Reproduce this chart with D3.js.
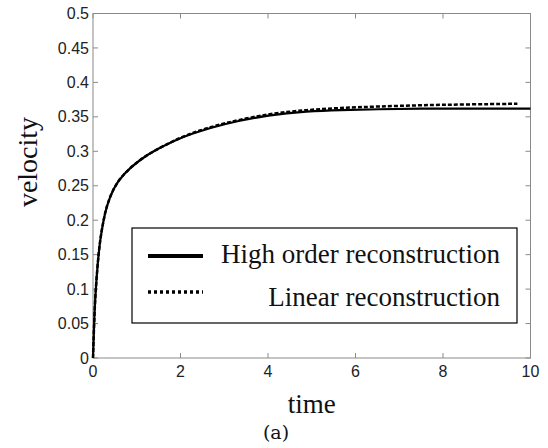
<!DOCTYPE html>
<html>
<head>
<meta charset="utf-8">
<script src="https://cdn.jsdelivr.net/npm/d3@7"></script>
<style>
  body { margin: 0; background: #fff; }
  svg { display: block; }
</style>
</head>
<body>
<svg width="548" height="448"></svg>
<script>
// values
const timeHigh = [0, 0.023, 0.046, 0.10, 0.16, 0.24, 0.31, 0.46, 0.69, 1.07, 1.46, 1.84, 2.22, 2.98, 4.05, 4.89, 5.65, 6.5, 7.5, 8.5, 10];
const velHigh  = [0, 0.045, 0.084, 0.133, 0.171, 0.200, 0.220, 0.246, 0.267, 0.288, 0.303, 0.315, 0.325, 0.340, 0.353, 0.358, 0.360, 0.361, 0.362, 0.362, 0.362];
const timeLin  = [0, 0.023, 0.046, 0.10, 0.16, 0.24, 0.31, 0.46, 0.69, 1.07, 1.46, 1.84, 2.22, 2.98, 4.05, 4.89, 5.65, 6.5, 7.5, 8.5, 9.7];
const velLin   = [0, 0.045, 0.084, 0.133, 0.171, 0.200, 0.220, 0.246, 0.267, 0.288, 0.303, 0.315, 0.326, 0.341, 0.355, 0.360, 0.363, 0.365, 0.367, 0.368, 0.369];
const xTicks = [0, 2, 4, 6, 8, 10];
const yTicks = [0, 0.05, 0.1, 0.15, 0.2, 0.25, 0.3, 0.35, 0.4, 0.45, 0.5];
const legendLabels = ["High order reconstruction", "Linear reconstruction"];

const svg = d3.select("svg");
const plotL = 93, plotR = 530.5, plotT = 13.5, plotB = 358;

const x = d3.scaleLinear().domain([0, 10]).range([plotL, plotR]);
const y = d3.scaleLinear().domain([0, 0.5]).range([plotB, plotT]);

const fmt = d => d3.format("~g")(d);

// frame
svg.append("rect")
    .attr("x", plotL).attr("y", plotT)
    .attr("width", plotR - plotL).attr("height", plotB - plotT)
    .style("fill", "none").style("stroke", "#8a8a8a").style("stroke-width", 1);

// ticks on all four sides, pointing in
const tickLen = 5;
const grey = "#8a8a8a";
const xt = svg.append("g");
xTicks.forEach(t => {
    xt.append("line").attr("x1", x(t)).attr("x2", x(t)).attr("y1", plotB).attr("y2", plotB - tickLen).style("stroke", grey);
    xt.append("line").attr("x1", x(t)).attr("x2", x(t)).attr("y1", plotT).attr("y2", plotT + tickLen).style("stroke", grey);
    xt.append("text")
        .attr("x", x(t)).attr("y", 377)
        .attr("text-anchor", "middle")
        .style("font-family", "Liberation Sans, Arial, sans-serif")
        .style("font-size", "16px").style("fill", "#222")
        .text(fmt(t));
});
const yt = svg.append("g");
yTicks.forEach(v => {
    yt.append("line").attr("x1", plotL).attr("x2", plotL + tickLen).attr("y1", y(v)).attr("y2", y(v)).style("stroke", grey);
    yt.append("line").attr("x1", plotR).attr("x2", plotR - tickLen).attr("y1", y(v)).attr("y2", y(v)).style("stroke", grey);
    yt.append("text")
        .attr("x", 89).attr("y", y(v))
        .attr("dy", "0.35em")
        .attr("text-anchor", "end")
        .style("font-family", "Liberation Sans, Arial, sans-serif")
        .style("font-size", "16px").style("fill", "#222")
        .text(fmt(v));
});

// curves
const line = d3.line()
    .x(d => x(d[0]))
    .y(d => y(d[1]))
    .curve(d3.curveBasis);

svg.append("path")
    .attr("d", line(d3.zip(timeHigh, velHigh)))
    .style("fill", "none").style("stroke", "#000").style("stroke-width", 2.2);

svg.append("path")
    .attr("d", line(d3.zip(timeLin, velLin)))
    .style("fill", "none").style("stroke", "#000").style("stroke-width", 2.5)
    .style("stroke-dasharray", "4,2");

// legend
const lg = svg.append("g");
lg.append("rect")
    .attr("x", 132).attr("y", 228).attr("width", 385).attr("height", 95)
    .style("fill", "#fff").style("stroke", "#000").style("stroke-width", 1.2);
lg.append("line")
    .attr("x1", 148).attr("x2", 203).attr("y1", 256).attr("y2", 256)
    .style("stroke", "#000").style("stroke-width", 4);
lg.append("line")
    .attr("x1", 148).attr("x2", 203).attr("y1", 292).attr("y2", 292)
    .style("stroke", "#000").style("stroke-width", 3.5).style("stroke-dasharray", "3,3");
lg.selectAll("text")
    .data(legendLabels)
    .enter().append("text")
    .attr("x", 500)
    .attr("y", (d, i) => 263 + i * 43)
    .attr("text-anchor", "end")
    .style("font-family", "Liberation Serif, Times New Roman, serif")
    .style("font-size", "27px").style("fill", "#111")
    .text(d => d);

// axis titles
svg.append("text")
    .attr("x", (plotL + plotR) / 2).attr("y", 413)
    .attr("text-anchor", "middle")
    .style("font-family", "Liberation Serif, Times New Roman, serif")
    .style("font-size", "27px").style("fill", "#111")
    .text("time");

svg.append("text")
    .attr("transform", "translate(37,162) rotate(-90)")
    .attr("text-anchor", "middle")
    .style("font-family", "Liberation Serif, Times New Roman, serif")
    .style("font-size", "28px").style("fill", "#111")
    .text("velocity");

svg.append("text")
    .attr("x", 276).attr("y", 439)
    .attr("text-anchor", "middle")
    .style("font-family", "DejaVu Serif, serif")
    .style("font-size", "19px").style("fill", "#111")
    .text("(a)");
</script>
</body>
</html>
